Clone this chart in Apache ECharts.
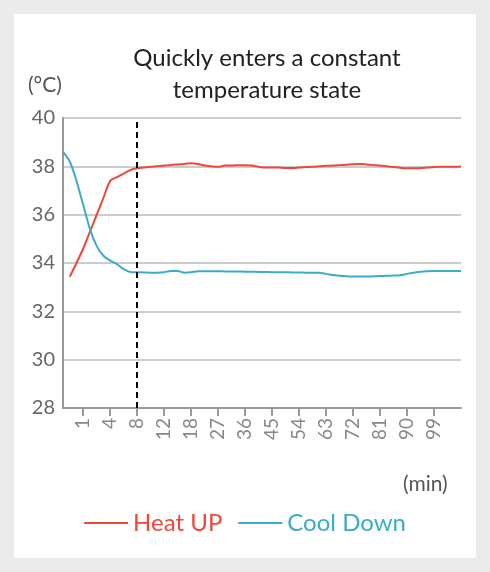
<!DOCTYPE html>
<html><head><meta charset="utf-8">
<script src="https://cdn.jsdelivr.net/npm/echarts@6/dist/echarts.min.js"></script>
<style>html,body{margin:0;padding:0;background:#ebebeb}#c{width:490px;height:572px}</style>
</head><body><div id="c"></div>
<script>
const tickLabels = ['1','4','8','12','18','27','36','45','54','63','72','81','90','99'];
const heatUp = [null,33.43,34.0,34.6,35.3,36.0,36.7,37.4,37.55,37.7,37.85,37.92,37.95,37.98,38.0,38.03,38.06,38.08,38.1,38.13,38.1,38.03,38.0,37.98,38.03,38.03,38.05,38.05,38.03,37.98,37.95,37.95,37.95,37.93,37.93,37.95,37.97,37.98,38.0,38.02,38.03,38.05,38.07,38.09,38.1,38.08,38.05,38.03,38.0,37.97,37.94,37.92,37.92,37.93,37.95,37.97,37.98,37.98,37.98,37.99];
const coolDown = [38.6,38.2,37.4,36.4,35.4,34.7,34.3,34.1,33.95,33.75,33.63,33.62,33.61,33.6,33.6,33.62,33.67,33.67,33.6,33.62,33.66,33.66,33.66,33.66,33.65,33.65,33.65,33.64,33.64,33.63,33.63,33.62,33.62,33.62,33.61,33.61,33.6,33.6,33.6,33.55,33.5,33.47,33.45,33.44,33.44,33.44,33.45,33.46,33.47,33.48,33.49,33.55,33.6,33.64,33.66,33.67,33.67,33.67,33.67,33.67];
const categories = heatUp.map((_, i) => String(i));
const isTick = i => i % 4 === 3 && (i - 3) / 4 < tickLabels.length;
const chart = echarts.init(document.getElementById('c'));
chart.setOption({
  backgroundColor: '#ebebeb',
  textStyle: { fontFamily: 'Lato' },
  graphic: [{ type: 'rect', z: -10, shape: { x: 14, y: 14, width: 462, height: 544 }, style: { fill: '#fff' } },
    { type: 'text', left: 28, top: 75, style: { text: '(°C)', fontSize: 21, fill: '#555', fontFamily: 'Lato' } },
    { type: 'text', left: 403, top: 474, style: { text: '(min)', fontSize: 21, fill: '#555', fontFamily: 'Lato' } }],
  title: { text: 'Quickly enters a constant\ntemperature state', left: 262, top: 37, textAlign: 'center',
    textStyle: { fontSize: 24, fontWeight: 'normal', color: '#222', lineHeight: 32, fontFamily: 'Lato' } },
  legend: { bottom: 32, left: 'center', itemWidth: 44, itemHeight: 2, itemGap: 16, icon: 'rect',
    textStyle: { fontSize: 24, fontFamily: 'Lato', color: 'inherit' },
    data: [{ name: 'Heat UP', textStyle: { color: '#f0473b' } }, { name: 'Cool Down', textStyle: { color: '#3aaccb' } }] },
  grid: { left: 63, right: 29, top: 118, bottom: 164 },
  xAxis: { type: 'category', data: categories, boundaryGap: false,
    axisLine: { lineStyle: { color: '#999', width: 2 } },
    axisTick: { interval: (i) => isTick(i), length: 8, lineStyle: { color: '#999', width: 2 } },
    axisLabel: { interval: (i) => isTick(i), rotate: 90, fontSize: 19, color: '#888', margin: 10,
      formatter: (v, i) => tickLabels[(i - 3) / 4] } },
  yAxis: { type: 'value', min: 28, max: 40, interval: 2,
    axisLine: { show: true, lineStyle: { color: '#999', width: 2 } },
    axisTick: { show: false },
    axisLabel: { fontSize: 20, color: '#666', margin: 8 },
    splitLine: { lineStyle: { color: '#ccc', width: 2 } } },
  series: [
    { name: 'Heat UP', type: 'line', data: heatUp, showSymbol: false, smooth: 0.3, color: '#f0473b', lineStyle: { width: 2 },
      markLine: { symbol: 'none', silent: true, label: { show: false }, lineStyle: { color: '#000', type: [6, 4], width: 2 }, data: [{ xAxis: 11 }] } },
    { name: 'Cool Down', type: 'line', data: coolDown, showSymbol: false, smooth: 0.3, color: '#3aaccb', lineStyle: { width: 2 } }
  ]
});
</script></body></html>
